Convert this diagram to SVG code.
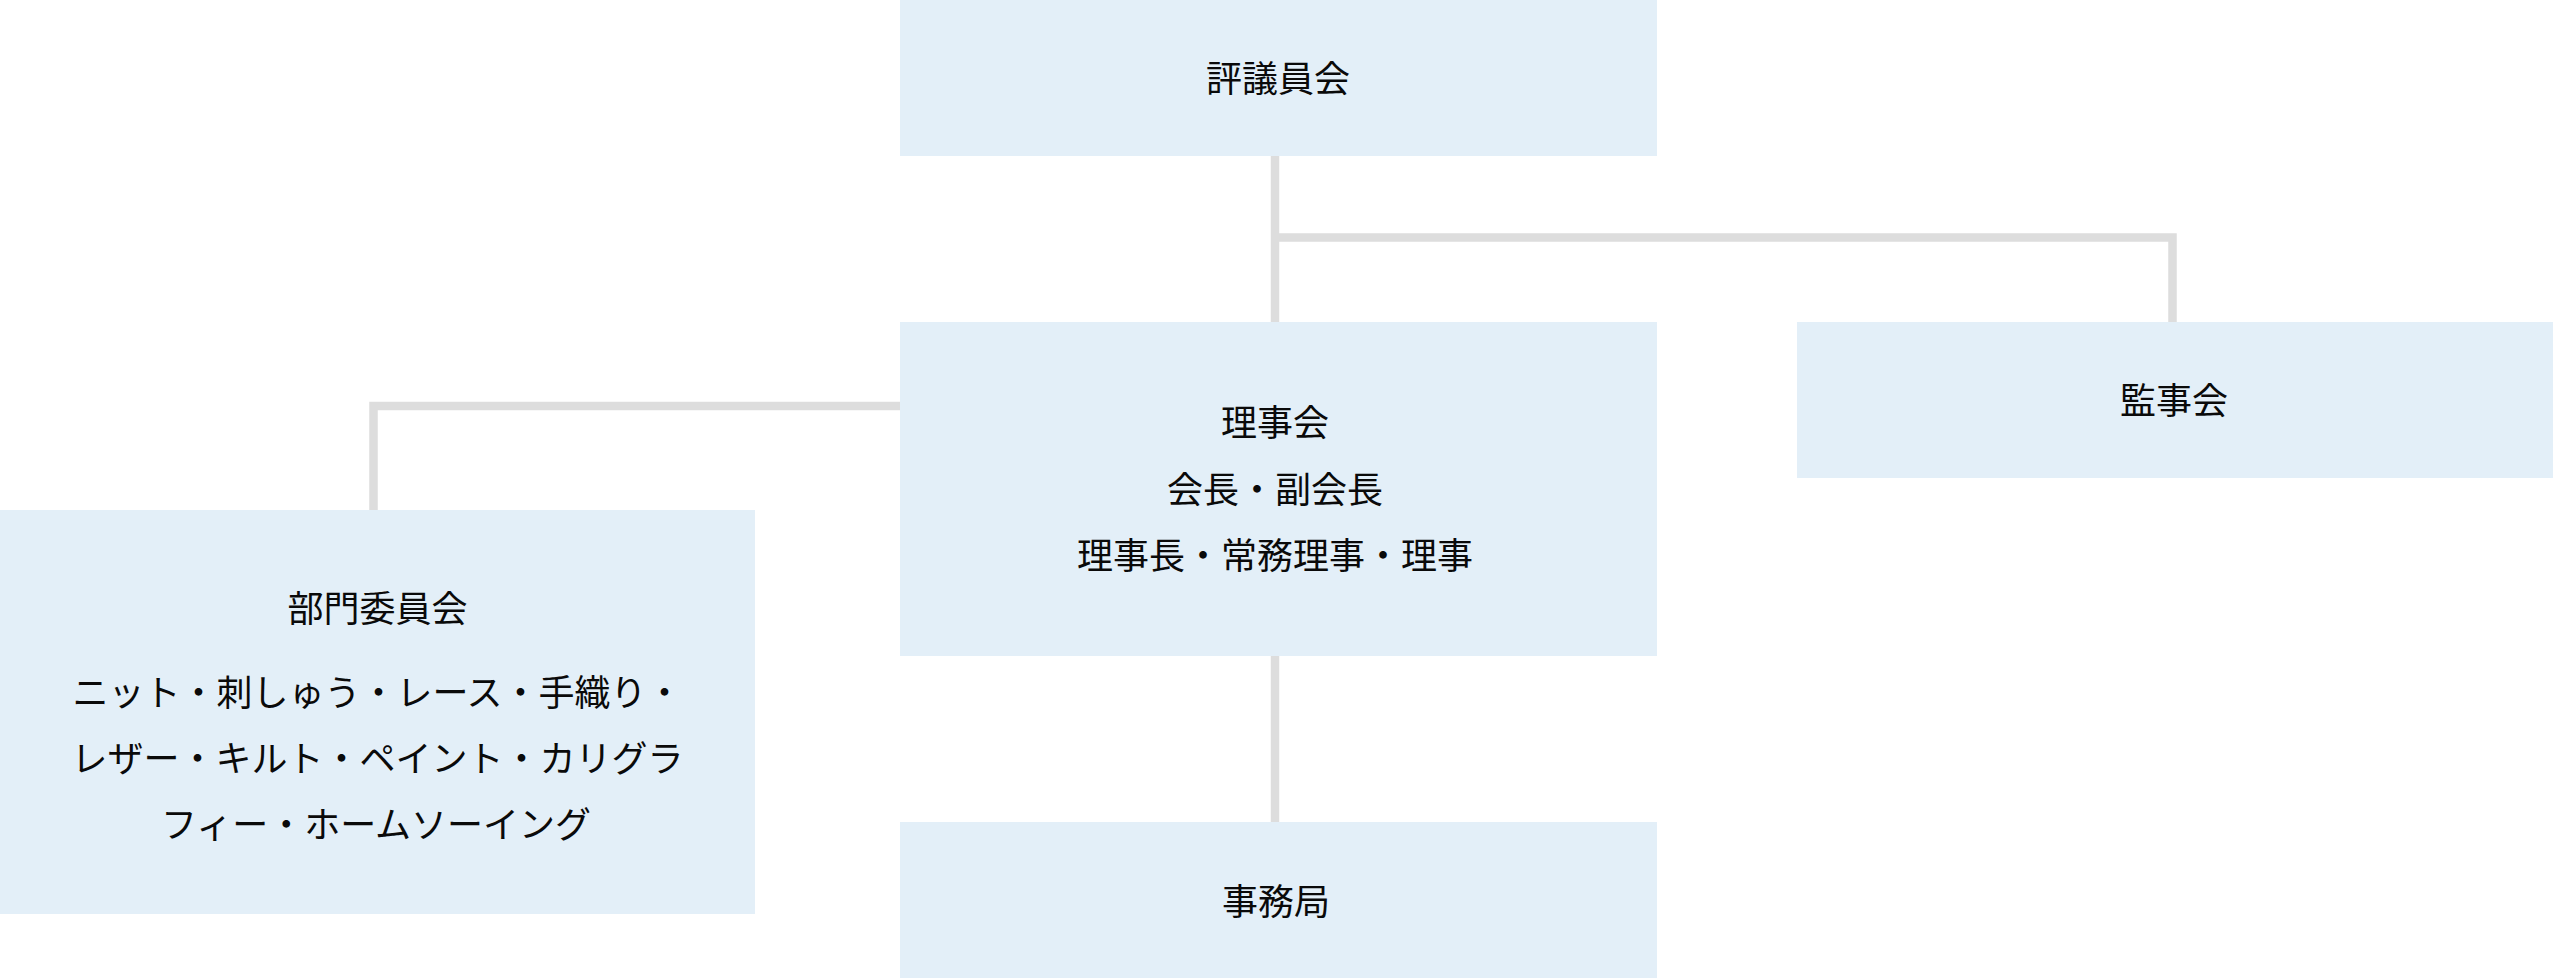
<svg xmlns="http://www.w3.org/2000/svg" width="2553" height="978" viewBox="0 0 2553 978">
  <style>
    .box { fill: #e3eff8; }
    .conn { fill: none; stroke: #dddddd; stroke-width: 8.5; stroke-linejoin: miter; stroke-linecap: butt; }
    .lbl { font-family: "Noto Sans CJK JP", "Noto Sans CJK SC", sans-serif; font-size: 36px; fill: #0a0a0a; text-anchor: middle; }
  </style>
  <rect width="2553" height="978" fill="#ffffff"/>
  <g id="connectors">
    <path class="conn" d="M1275 155 V322"/>
    <path class="conn" d="M1275 237.5 H2172.5 V322"/>
    <path class="conn" d="M900 406 H373.5 V510"/>
    <path class="conn" d="M1275 656 V822"/>
  </g>
  <g id="node-hyogiinkai">
    <rect class="box" x="900" y="0" width="757" height="156"/>
    <text class="lbl" x="1278" y="92">評議員会</text>
  </g>
  <g id="node-rijikai">
    <rect class="box" x="900" y="322" width="757" height="334"/>
    <text class="lbl" x="1275" y="436">理事会</text>
    <text class="lbl" x="1275" y="503">会長・副会長</text>
    <text class="lbl" x="1275" y="569">理事長・常務理事・理事</text>
  </g>
  <g id="node-kanjikai">
    <rect class="box" x="1797" y="322" width="756" height="156"/>
    <text class="lbl" x="2174" y="414">監事会</text>
  </g>
  <g id="node-bumon">
    <rect class="box" x="0" y="510" width="755" height="404"/>
    <text class="lbl" x="377.5" y="622">部門委員会</text>
    <text class="lbl" x="377.5" y="706">ニット・刺しゅう・レース・手織り・</text>
    <text class="lbl" x="377.5" y="772">レザー・キルト・ペイント・カリグラ</text>
    <text class="lbl" x="376" y="838">フィー・ホームソーイング</text>
  </g>
  <g id="node-jimukyoku">
    <rect class="box" x="900" y="822" width="757" height="156"/>
    <text class="lbl" x="1276" y="915">事務局</text>
  </g>
</svg>
